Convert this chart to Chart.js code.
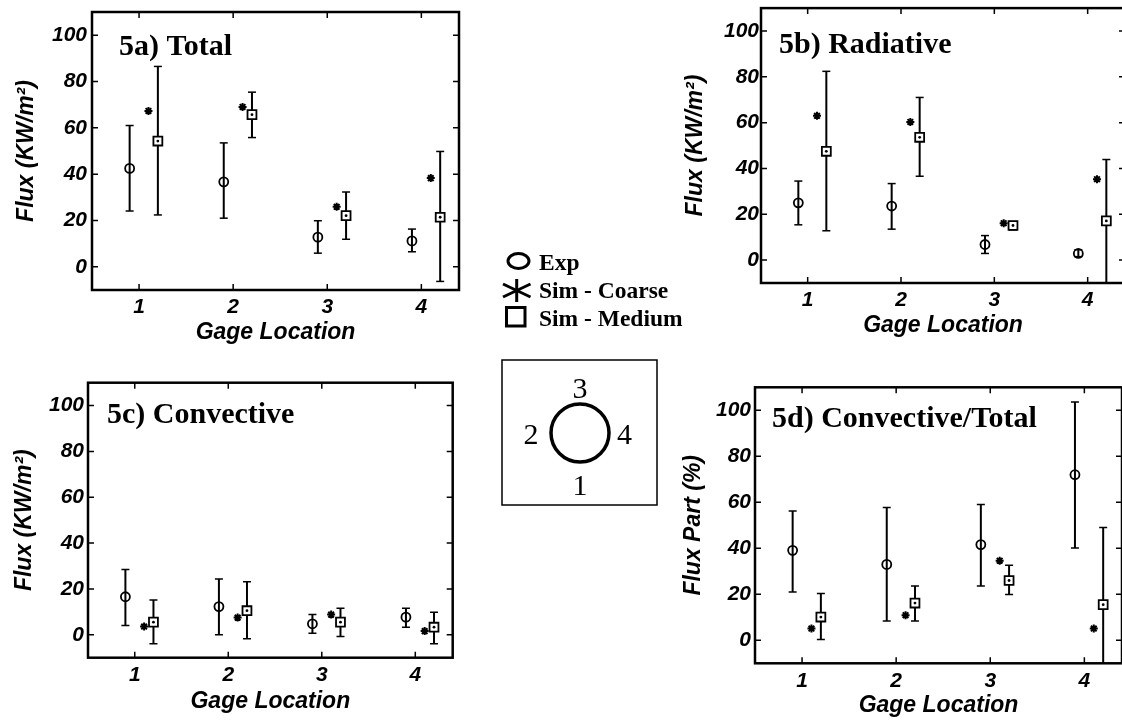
<!DOCTYPE html>
<html>
<head>
<meta charset="utf-8">
<script src="https://cdn.jsdelivr.net/npm/chart.js@4.4.1/dist/chart.umd.min.js"></script>
<style>
  html, body { margin: 0; padding: 0; background: #fff; overflow: hidden; width: 1122px; height: 724px; }
  .panel { position: absolute; }
  #overlay { position: absolute; left: 0; top: 0; pointer-events: none; }
</style>
</head>
<body>
<div class="panel" style="left:0px;top:0px"><canvas id="c5a" width="480" height="360"></canvas></div>
<div class="panel" style="left:660px;top:0px"><canvas id="c5b" width="480" height="360"></canvas></div>
<div class="panel" style="left:0px;top:360px"><canvas id="c5c" width="480" height="364"></canvas></div>
<div class="panel" style="left:660px;top:360px"><canvas id="c5d" width="480" height="364"></canvas></div>

<!-- legend + gage sketch -->
<svg id="overlay" width="1122" height="724">
  <g stroke="#000" fill="none" stroke-width="3">
    <ellipse cx="518.5" cy="261" rx="10.5" ry="7.5"/>
    <line x1="516.7" y1="279" x2="516.7" y2="302"/>
    <line x1="503" y1="284" x2="530.5" y2="297"/>
    <line x1="503" y1="297" x2="530.5" y2="284"/>
    <rect x="506.5" y="307.5" width="18.5" height="18.5"/>
  </g>
  <g font-family="Liberation Serif, Times New Roman, serif" font-weight="bold" font-size="23.5" fill="#000">
    <text x="539" y="270">Exp</text>
    <text x="539" y="298">Sim - Coarse</text>
    <text x="539" y="325.5">Sim - Medium</text>
  </g>
  <rect x="502" y="360" width="155" height="145" stroke="#000" stroke-width="1.5" fill="none"/>
  <circle cx="580" cy="433" r="29" stroke="#000" stroke-width="3.5" fill="none"/>
  <g font-family="Liberation Serif, Times New Roman, serif" font-size="30" fill="#000" text-anchor="middle">
    <text x="580" y="398">3</text>
    <text x="531" y="443.5">2</text>
    <text x="624.5" y="443.5">4</text>
    <text x="580" y="495">1</text>
  </g>
</svg>

<script>
// axes
const xTicks = [1, 2, 3, 4];
const yTicks = [0, 20, 40, 60, 80, 100];
const xRange = [0.5, 4.4];
const yRange = [-10, 110];

// x positions of each series around the gage location
const expX = [0.9, 1.9, 2.9, 3.9];
const coarseX = [1.1, 2.1, 3.1, 4.1];
const mediumX = [1.2, 2.2, 3.2, 4.2];

// 5a) Total
const totalExp = [42.5, 36.7, 12.8, 11.2];
const totalExpLo = [24.1, 21.0, 5.9, 6.5];
const totalExpHi = [61.0, 53.5, 19.9, 16.3];
const totalCoarse = [67.3, 69.0, 25.9, 38.3];
const totalMed = [54.3, 65.7, 22.1, 21.4];
const totalMedLo = [22.4, 55.8, 11.9, -6.3];
const totalMedHi = [86.5, 75.4, 32.3, 49.8];

// 5b) Radiative
const radExp = [25.0, 23.6, 6.8, 2.9];
const radExpLo = [15.4, 13.5, 2.9, 1.5];
const radExpHi = [34.5, 33.4, 10.7, 4.5];
const radCoarse = [63.0, 60.3, 16.1, 35.3];
const radMed = [47.5, 53.6, 15.1, 17.1];
const radMedLo = [12.8, 36.6, 13.2, -12];
const radMedHi = [82.4, 71.0, 16.8, 43.9];

// 5c) Convective
const convExp = [16.6, 12.3, 4.8, 7.7];
const convExpLo = [4.0, 0.0, 0.7, 3.3];
const convExpHi = [28.5, 24.3, 8.8, 11.6];
const convCoarse = [3.6, 7.5, 8.8, 1.6];
const convMed = [5.5, 10.5, 5.5, 3.3];
const convMedLo = [-3.9, -1.7, -0.7, -3.9];
const convMedHi = [15.2, 23.1, 11.6, 9.8];

// 5d) Convective/Total
const partExp = [39.1, 33.0, 41.6, 72.0];
const partExpLo = [21.0, 8.4, 23.6, 40.1];
const partExpHi = [56.2, 57.7, 59.0, 103.6];
const partCoarse = [5.1, 10.9, 34.6, 5.1];
const partMed = [10.1, 16.2, 26.0, 15.5];
const partMedLo = [0.3, 8.4, 19.9, -12];
const partMedHi = [20.3, 23.6, 32.6, 49.0];

const tickFont = { family: 'Liberation Sans', size: 21, weight: 'bold', style: 'italic' };
const titleFont = { family: 'Liberation Sans', size: 23, weight: 'bold', style: 'italic' };

function pts(xs, ys) {
  return xs.map((x, i) => ({ x: x, y: ys[i] }));
}

// error bar as line segments with gaps, caps drawn by the 'line' point style
function bars(xs, lo, hi) {
  const out = [];
  xs.forEach((x, i) => {
    out.push({ x: x, y: lo[i] }, { x: x, y: hi[i] }, { x: x, y: null });
  });
  return out;
}

// box, inward ticks on all sides and the panel label
const framePlugin = {
  id: 'frame',
  afterDraw(chart, args, opts) {
    const { ctx, chartArea: a } = chart;
    const xs = chart.scales.x, ys = chart.scales.y;
    ctx.save();
    ctx.strokeStyle = '#000';
    ctx.lineWidth = 1.5;
    ctx.beginPath();
    xTicks.forEach(v => {
      const px = xs.getPixelForValue(v);
      ctx.moveTo(px, a.bottom); ctx.lineTo(px, a.bottom - 6);
      ctx.moveTo(px, a.top); ctx.lineTo(px, a.top + 6);
    });
    yTicks.forEach(v => {
      const py = ys.getPixelForValue(v);
      ctx.moveTo(a.left, py); ctx.lineTo(a.left + 6, py);
      ctx.moveTo(a.right, py); ctx.lineTo(a.right - 6, py);
    });
    ctx.stroke();
    ctx.lineWidth = 2.5;
    ctx.strokeRect(a.left, a.top, a.right - a.left, a.bottom - a.top);
    ctx.fillStyle = '#000';
    ctx.font = 'bold 30px "Liberation Serif"';
    ctx.fillText(opts.text, a.left + opts.dx, a.top + opts.dy);
    ctx.restore();
  }
};

function makePanel(id, p) {
  const ctx = document.getElementById(id).getContext('2d');
  return new Chart(ctx, {
    type: 'scatter',
    data: {
      datasets: [
        { data: pts(mediumX, p.med), pointStyle: 'circle', pointRadius: 1.4, borderWidth: 0, backgroundColor: '#000' },
        { data: pts(expX, p.exp), pointStyle: 'circle', pointRadius: 4.5, borderWidth: 1.8, borderColor: '#000', backgroundColor: 'rgba(0,0,0,0)' },
        { data: pts(coarseX, p.coarse), pointStyle: 'star', pointRadius: 4, borderWidth: 2, borderColor: '#000', backgroundColor: '#000' },
        { data: pts(mediumX, p.med), pointStyle: 'rect', pointRadius: 6.3, borderWidth: 1.8, borderColor: '#000', backgroundColor: '#fff' },
        { data: bars(expX, p.expLo, p.expHi), showLine: true, borderColor: '#000', borderWidth: 2,
          pointStyle: 'line', pointRadius: 4, pointBorderWidth: 1.5, pointBorderColor: '#000' },
        { data: bars(mediumX, p.medLo, p.medHi), showLine: true, borderColor: '#000', borderWidth: 2,
          pointStyle: 'line', pointRadius: 4, pointBorderWidth: 1.5, pointBorderColor: '#000' }
      ]
    },
    options: {
      responsive: false,
      animation: false,
      events: [],
      layout: { padding: { left: 0, top: p.padTop, right: p.padRight, bottom: 0 } },
      plugins: {
        legend: { display: false },
        tooltip: { enabled: false },
        frame: { text: p.title, dx: p.titleDx, dy: p.titleDy }
      },
      scales: {
        x: {
          type: 'linear',
          min: xRange[0], max: xRange[1],
          grid: { display: false, drawTicks: false },
          border: { display: false },
          afterBuildTicks: s => { s.ticks = xTicks.map(v => ({ value: v })); },
          afterFit: s => { s.height = p.xHeight; s.paddingLeft = 0; s.paddingRight = 0; },
          ticks: { font: tickFont, color: '#000', padding: 5, maxRotation: 0 },
          title: { display: true, text: 'Gage Location', font: titleFont, color: '#000',
                   padding: { top: 0, bottom: p.xTitlePad } }
        },
        y: {
          type: 'linear',
          min: yRange[0], max: yRange[1],
          grid: { display: false, drawTicks: false },
          border: { display: false },
          afterBuildTicks: s => { s.ticks = yTicks.map(v => ({ value: v })); },
          afterFit: s => { s.width = p.yWidth; s.paddingTop = 0; s.paddingBottom = 0; },
          ticks: { font: tickFont, color: '#000', padding: p.yTickPad },
          title: { display: true, text: p.yTitle, font: titleFont, color: '#000',
                   padding: { top: p.yTitlePad, bottom: 0 } }
        }
      }
    },
    plugins: [framePlugin]
  });
}

makePanel('c5a', {
  title: '5a) Total', titleDx: 27, titleDy: 43, yTitle: 'Flux (KW/m²)',
  exp: totalExp, expLo: totalExpLo, expHi: totalExpHi, coarse: totalCoarse,
  med: totalMed, medLo: totalMedLo, medHi: totalMedHi,
  padTop: 12, padRight: 21, yWidth: 92, xHeight: 70, yTickPad: 5, yTitlePad: 13, xTitlePad: 14
});

makePanel('c5b', {
  title: '5b) Radiative', titleDx: 18, titleDy: 45, yTitle: 'Flux (KW/m²)',
  exp: radExp, expLo: radExpLo, expHi: radExpHi, coarse: radCoarse,
  med: radMed, medLo: radMedLo, medHi: radMedHi,
  padTop: 6, padRight: 15, yWidth: 101, xHeight: 77, yTickPad: 2, yTitlePad: 22, xTitlePad: 21
});

makePanel('c5c', {
  title: '5c) Convective', titleDx: 19, titleDy: 40, yTitle: 'Flux (KW/m²)',
  exp: convExp, expLo: convExpLo, expHi: convExpHi, coarse: convCoarse,
  med: convMed, medLo: convMedLo, medHi: convMedHi,
  padTop: 22.7, padRight: 27.3, yWidth: 88, xHeight: 66.3, yTickPad: 4, yTitlePad: 11, xTitlePad: 8.5
});

makePanel('c5d', {
  title: '5d) Convective/Total', titleDx: 17, titleDy: 39.5, yTitle: 'Flux Part (%)',
  exp: partExp, expLo: partExpLo, expHi: partExpHi, coarse: partCoarse,
  med: partMed, medLo: partMedLo, medHi: partMedHi,
  padTop: 27.3, padRight: 18, yWidth: 95, xHeight: 60.7, yTickPad: 4, yTitlePad: 19.5, xTitlePad: 5
});
</script>
</body>
</html>
